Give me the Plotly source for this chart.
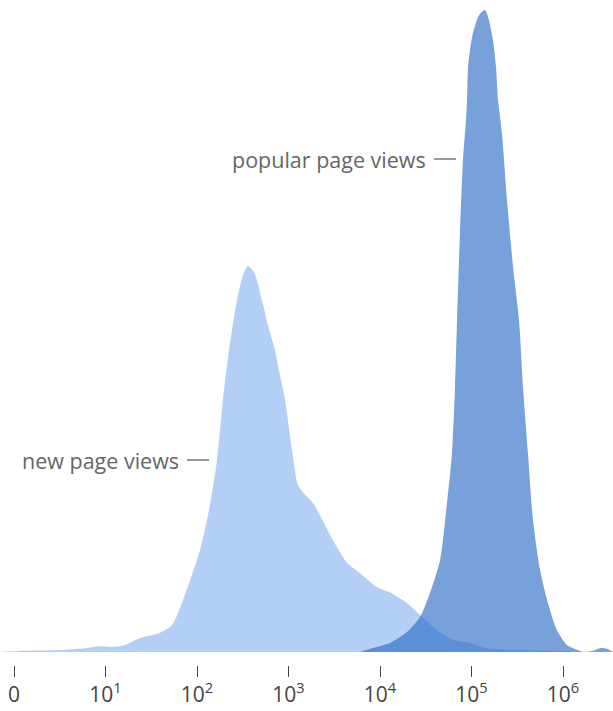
import plotly.graph_objects as go

# log10(page views) positions and density (normalised to popular peak = 1)
popular_x = [3.781, 3.923, 4.109, 4.295, 4.437, 4.546, 4.656, 4.732, 4.787, 4.820,
             4.842, 4.874, 4.907, 4.940, 4.951, 4.962, 4.984, 5.016, 5.082, 5.148,
             5.191, 5.235, 5.268, 5.290, 5.333, 5.388, 5.454, 5.519, 5.563, 5.617,
             5.672, 5.749, 5.836, 5.934, 6.044, 6.219, 6.317, 6.404, 6.481, 6.546]
popular_y = [0.0, 0.0062, 0.014, 0.031, 0.0545, 0.092, 0.143, 0.232, 0.310, 0.413,
             0.517, 0.653, 0.766, 0.829, 0.860, 0.911, 0.938, 0.964, 0.992, 1.0,
             0.984, 0.953, 0.911, 0.860, 0.808, 0.704, 0.600, 0.517, 0.413, 0.310,
             0.206, 0.128, 0.076, 0.034, 0.011, 0.0005, 0.0015, 0.006, 0.005, 0.0]

new_x = [-0.153, 0.033, 0.503, 0.776, 0.940, 1.082, 1.213, 1.377, 1.596, 1.727,
         1.847, 2.033, 2.131, 2.219, 2.284, 2.350, 2.437, 2.503, 2.557, 2.623,
         2.710, 2.776, 2.852, 2.907, 2.962, 3.038, 3.104, 3.180, 3.257, 3.344,
         3.486, 3.639, 3.781, 3.967, 4.109, 4.295, 4.437, 4.623, 4.798, 4.984,
         5.169, 5.530, 5.891, 6.186]
new_y = [0.0, 0.0015, 0.003, 0.006, 0.009, 0.008, 0.011, 0.022, 0.030, 0.042,
         0.081, 0.159, 0.221, 0.299, 0.393, 0.470, 0.548, 0.587, 0.601, 0.592,
         0.548, 0.509, 0.470, 0.431, 0.393, 0.315, 0.260, 0.245, 0.234, 0.213,
         0.174, 0.139, 0.123, 0.101, 0.093, 0.076, 0.058, 0.034, 0.019, 0.014,
         0.006, 0.003, 0.0015, 0.0]

tick_vals = [0, 1, 2, 3, 4, 5, 6]
tick_text = ["0", "10<sup>1</sup>", "10<sup>2</sup>", "10<sup>3</sup>",
             "10<sup>4</sup>", "10<sup>5</sup>", "10<sup>6</sup>"]

labels = ["new page views", "popular page views"]

W, H = 613, 711
PX_PER_DECADE = 91.5
X0_PX = 14
BOTTOM_MARGIN = 46
PLOT_H = H - BOTTOM_MARGIN
BASE_GAP = 13         # px between baseline and plot bottom (tick start)
PEAK_PX = 642         # px height of the unit density

def u(px):
    return (px - X0_PX) / PX_PER_DECADE

def v(py):
    return (652 - py) / PEAK_PX

fig = go.Figure()
fig.add_trace(go.Scatter(x=new_x, y=new_y, mode="lines", fill="tozeroy",
                         line=dict(width=0, shape="spline", smoothing=0.7),
                         fillcolor="#b4cff6", hoverinfo="skip", name=labels[0]))
fig.add_trace(go.Scatter(x=popular_x, y=popular_y, mode="lines", fill="tozeroy",
                         line=dict(width=0, shape="spline", smoothing=0.7),
                         fillcolor="rgba(37,103,199,0.62)", hoverinfo="skip", name=labels[1]))

y0 = -BASE_GAP / PEAK_PX
y1 = y0 + PLOT_H / PEAK_PX

fig.update_layout(
    width=W, height=H,
    margin=dict(l=0, r=0, t=0, b=BOTTOM_MARGIN),
    paper_bgcolor="white", plot_bgcolor="white",
    showlegend=False,
    font=dict(family="Open Sans", color="#555"),
    xaxis=dict(range=[u(0), u(W)], tickvals=tick_vals, ticktext=tick_text,
               ticks="outside", ticklen=11, tickwidth=1, tickcolor="#444",
               showgrid=False, zeroline=False, showline=False,
               tickfont=dict(size=21, color="#444", family="Open Sans")),
    yaxis=dict(range=[y0, y1], visible=False, showgrid=False, zeroline=False),
)

# labels with leader dashes
fig.add_annotation(x=u(428), y=v(159), text=labels[1], showarrow=False,
                   xanchor="right", yanchor="middle",
                   font=dict(size=21.5, color="#666", family="Open Sans"))
fig.add_shape(type="line", x0=u(434), x1=u(456), y0=v(159), y1=v(159),
              line=dict(color="#999", width=2))
fig.add_annotation(x=u(181), y=v(460), text=labels[0], showarrow=False,
                   xanchor="right", yanchor="middle",
                   font=dict(size=21.5, color="#666", family="Open Sans"))
fig.add_shape(type="line", x0=u(187), x1=u(209), y0=v(460), y1=v(460),
              line=dict(color="#999", width=2))

fig.write_html("out.html")
